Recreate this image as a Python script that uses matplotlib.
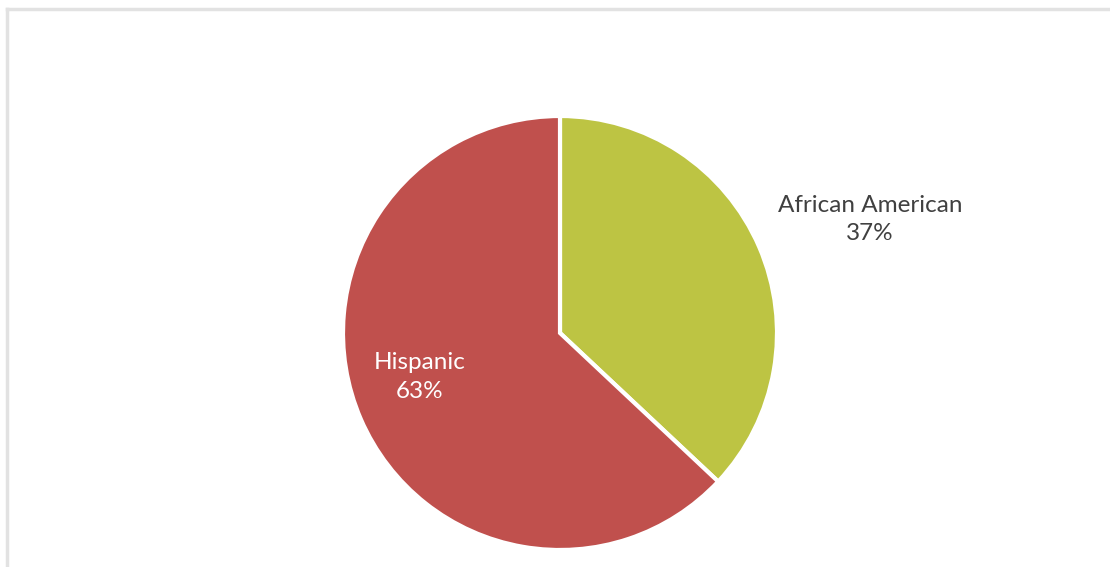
import matplotlib.pyplot as plt
import numpy as np

groups = ['African American', 'Hispanic']
shares = [37, 63]
colors = ['#BDC443', '#C0504D']
label_colors = ['#404040', 'white']
label_dist = [1.52, 0.68]
label_shift = [-3.3, -6.0]   # degrees, nudges label off the wedge middle

plt.rcParams['font.family'] = ['Lato', 'DejaVu Sans']

fig = plt.figure(figsize=(11.1, 5.67), dpi=100)

# light grey frame along top and left like the original screenshot
fig.add_artist(plt.Line2D([0.006, 1.0], [0.984, 0.984], color='#e2e2e2', lw=2.5))
fig.add_artist(plt.Line2D([0.0065, 0.0065], [0.0, 0.984], color='#e2e2e2', lw=2.5))

cx, cy, r = 560 / 1110, 1 - 333 / 567, 217
ax = fig.add_axes([cx - r / 1110, cy - r / 567, 2 * r / 1110, 2 * r / 567])

wedges, _ = ax.pie(shares, colors=colors, startangle=90, counterclock=False,
                   wedgeprops=dict(edgecolor='white', linewidth=3))

for w, g, s, c, d, sh in zip(wedges, groups, shares, label_colors, label_dist, label_shift):
    ang = np.deg2rad((w.theta1 + w.theta2) / 2 + sh)
    ax.text(d * np.cos(ang), d * np.sin(ang), f'{g}\n{s}%', ha='center', va='center',
            color=c, fontsize=17.5, linespacing=1.45)

ax.set_xlim(-1, 1)
ax.set_ylim(-1, 1)
ax.set_aspect('equal')

fig.savefig('out.png', dpi=100)
